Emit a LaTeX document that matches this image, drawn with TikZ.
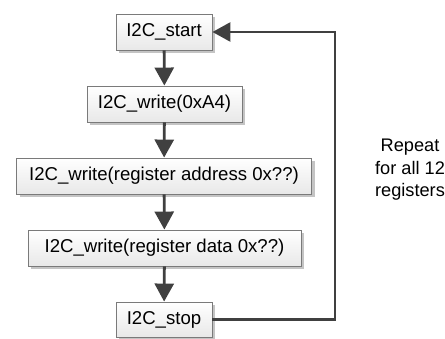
\documentclass[tikz,border=0pt]{standalone}
\usepackage{fontspec}
\setmainfont{Liberation Sans}
\usetikzlibrary{arrows.meta,shadows}
\definecolor{linegray}{HTML}{404040}
\definecolor{boxedge}{HTML}{7A7A7A}
\definecolor{boxshadow}{HTML}{C4C4C4}
\tikzset{
  stepbox/.style={draw=boxedge, line width=0.9pt, rectangle,
    top color=white, bottom color=black!9,
    minimum height=36pt, inner sep=0pt,
    font=\fontsize{18.6}{22}\selectfont,
    drop shadow={shadow xshift=3pt, shadow yshift=-3pt, fill=boxshadow, opacity=1}},
  flow/.style={draw=linegray, line width=2.8pt,
    -{Triangle[width=19pt,length=18pt]}},
  note/.style={align=center, font=\fontsize{18.2}{22.5}\selectfont}
}
\begin{document}
\begin{tikzpicture}[x=1pt,y=-1pt]
  \useasboundingbox (0,0) rectangle (445,339);
  % flow steps
  \node[stepbox, minimum width=96pt]  (start) at (164,32)  {I2C\_start};
  \node[stepbox, minimum width=155pt] (addr)  at (164.5,104) {I2C\_write(0xA4)};
  \node[stepbox, minimum width=295pt] (reg)   at (164,176) {I2C\_write(register address 0x??)};
  \node[stepbox, minimum width=273pt] (data)  at (164.5,248) {I2C\_write(register data 0x??)};
  \node[stepbox, minimum width=96pt, minimum height=35pt] (stop) at (164,319.5) {I2C\_stop};
  % straight-down connectors
  \draw[flow] (start) -- (addr);
  \draw[flow] (addr) -- (reg);
  \draw[flow] (reg) -- (data);
  \draw[flow] (data) -- (stop);
  % loop back to the start
  \coordinate (loopx) at (335,0);
  \draw[flow]
    (stop.east) -- (stop.east -| loopx) -- (loopx |- start.east) -- (start.east);
  % loop annotation
  \node[note] (repeat) at (410,170) {Repeat\\for all 12\\registers};
\end{tikzpicture}
\end{document}
